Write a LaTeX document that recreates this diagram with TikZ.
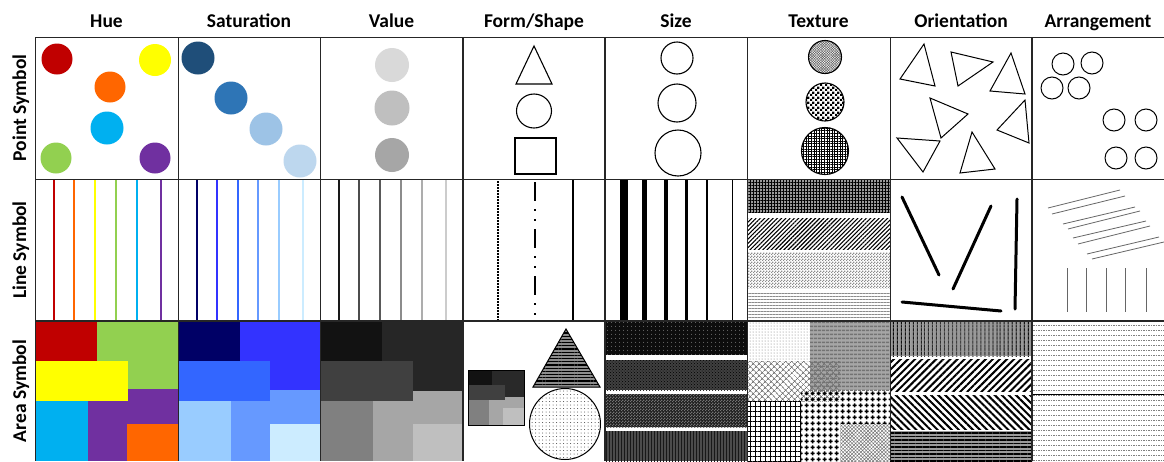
\documentclass[tikz,border=0pt]{standalone}
\usepackage{fontspec}
\setmainfont{Carlito}
\usetikzlibrary{patterns,patterns.meta}
\definecolor{hred}{HTML}{C00000}
\definecolor{hyel}{HTML}{FFFF00}
\definecolor{hora}{HTML}{FF6600}
\definecolor{hcya}{HTML}{00B0F0}
\definecolor{hgre}{HTML}{92D050}
\definecolor{hpur}{HTML}{7030A0}
\definecolor{sa1}{HTML}{1F4E79}
\definecolor{sa2}{HTML}{2E75B6}
\definecolor{sa3}{HTML}{9DC3E6}
\definecolor{sa4}{HTML}{BDD7EE}
\definecolor{bl1}{HTML}{000066}
\definecolor{bl2}{HTML}{3333FF}
\definecolor{bl3}{HTML}{3366FF}
\definecolor{bl4}{HTML}{6699FF}
\definecolor{bl5}{HTML}{99CCFF}
\definecolor{bl6}{HTML}{CCECFF}
\pgfdeclarepatternformonly{plusblk}{\pgfqpoint{0pt}{0pt}}{\pgfqpoint{6pt}{6pt}}{\pgfqpoint{6pt}{6pt}}{%
  \pgfpathrectangle{\pgfqpoint{0.8pt}{2.2pt}}{\pgfqpoint{4.4pt}{1.6pt}}%
  \pgfpathrectangle{\pgfqpoint{2.2pt}{0.8pt}}{\pgfqpoint{1.6pt}{4.4pt}}%
  \pgfusepath{fill}}
\pgfdeclarepatternformonly{smallchk}{\pgfqpoint{0pt}{0pt}}{\pgfqpoint{5pt}{5pt}}{\pgfqpoint{5pt}{5pt}}{%
  \pgfpathrectangle{\pgfqpoint{0pt}{0pt}}{\pgfqpoint{2.55pt}{2.55pt}}%
  \pgfpathrectangle{\pgfqpoint{2.5pt}{2.5pt}}{\pgfqpoint{2.55pt}{2.55pt}}%
  \pgfusepath{fill}}
\pgfdeclarepatternformonly{tinychk}{\pgfqpoint{0pt}{0pt}}{\pgfqpoint{3pt}{3pt}}{\pgfqpoint{3pt}{3pt}}{%
  \pgfpathrectangle{\pgfqpoint{0pt}{0pt}}{\pgfqpoint{1.55pt}{1.55pt}}%
  \pgfpathrectangle{\pgfqpoint{1.5pt}{1.5pt}}{\pgfqpoint{1.55pt}{1.55pt}}%
  \pgfusepath{fill}}
\begin{document}
\begin{tikzpicture}[x=1pt,y=-1pt,
  hdr/.style={font=\bfseries\fontsize{19.5}{22}\selectfont, anchor=base, inner sep=0pt},
  rowlbl/.style={font=\bfseries\fontsize{19.5}{22}\selectfont, anchor=base, inner sep=0pt, rotate=90},
  gridline/.style={line width=1.2pt, black!85},
  outl/.style={draw=black, line width=1.1pt},
  ori/.style={line width=3pt, line cap=round},
  arr/.style={line width=0.8pt, black!60}]
\useasboundingbox (0,0) rectangle (1164,461);
\fill[white] (0,0) rectangle (1164,461);

% headers
\node[hdr] (h1) at (106.5,27.5) {Hue};
\node[hdr] (h2) at (249,27.5) {Saturation};
\node[hdr] (h3) at (391.5,27.5) {Value};
\node[hdr] (h4) at (534,27.5) {Form/Shape};
\node[hdr] (h5) at (676,27.5) {Size};
\node[hdr] (h6) at (818.5,27.5) {Texture};
\node[hdr] (h7) at (961,27.5) {Orientation};
\node[hdr] (h8) at (1098,27.5) {Arrangement};
\node[rowlbl] (r1) at (26,108) {Point Symbol};
\node[rowlbl] (r2) at (26,250) {Line Symbol};
\node[rowlbl] (r3) at (26,391) {Area Symbol};

% ---------- Point row ----------
\fill[hred] (57,59) circle (15.5);
\fill[hyel] (155,60) circle (16);
\fill[hora] (110,87) circle (15.5);
\fill[hcya] (107,128) circle (16.5);
\fill[hgre] (56,158) circle (15.5);
\fill[hpur] (155,158) circle (15.5);

\fill[sa1] (198,58) circle (16.5);
\fill[sa2] (231,98) circle (16.5);
\fill[sa3] (266,129) circle (16.5);
\fill[sa4] (300,161) circle (16.5);

\fill[black!15] (392,65) circle (17);
\fill[black!25] (392,108) circle (17.5);
\fill[black!35] (392,155) circle (17);

\draw[outl] (534,46) -- (552,84) -- (516,84) -- cycle;
\draw[outl] (534,111) ellipse (17.5 and 17);
\draw[outl] (515,138) rectangle (556,174);

\draw[outl] (677,58) circle (16);
\draw[outl] (677,103) circle (19);
\draw[outl] (678,153) circle (23);

\path[pattern={Hatch[angle=45,distance=1.8pt,line width=0.5pt]}, pattern color=black!60] (825,57) circle (16.5);
\draw[outl] (825,57) circle (16.5);
\path[pattern=smallchk] (825,102) circle (19);
\draw[outl] (825,102) circle (19);
\path[pattern={Hatch[angle=0,distance=2.6pt,line width=0.6pt]}] (825,151) circle (23.5);
\draw[outl] (825,151) circle (23.5);

\begin{scope}[line width=1pt, line join=miter]
\draw (924,44) -- (900,79) -- (935,86) -- cycle;
\draw (951,52) -- (958,86) -- (993,62) -- cycle;
\draw (1011,53) -- (990,91) -- (1025,94) -- cycle;
\draw (930,98) -- (941,138) -- (968,114) -- cycle;
\draw (1025,100) -- (997,130) -- (1029,143) -- cycle;
\draw (897,138) -- (923,172) -- (940,141) -- cycle;
\draw (972,132) -- (960,173) -- (995,169) -- cycle;
\end{scope}

\foreach \cx/\cy in {1063/64,1092/63,1052/88,1079/88,1114/120,1146/120,1116/158,1146/158}
  \draw[line width=1pt] (\cx,\cy) circle (11);

% ---------- Line row ----------
\foreach \xx/\cc in {54/hred,74/hora,95/hyel,116/hgre,137/hcya,161/hpur}
  \draw[\cc, line width=2.2pt] (\xx,180) -- (\xx,321);
\foreach \xx/\cc in {197/bl1,217/bl2,238/bl3,258/bl4,279/bl5,303/bl6}
  \draw[\cc, line width=2.2pt] (\xx,180) -- (\xx,321);
\foreach \xx/\cc in {339/black!90,359/black!70,380/black!65,401/black!45,422/black!32,446/black!20}
  \draw[\cc, line width=2.4pt] (\xx,180) -- (\xx,321);

\draw[line width=2pt, dash pattern=on 1.5pt off 1.5pt] (498,181) -- (498,321);
\draw[line width=2pt, dash pattern=on 19pt off 8pt on 2pt off 8pt on 2pt off 8pt] (535,182) -- (535,321);
\draw[line width=2pt] (573,180) -- (573,321);

\foreach \xx/\ww in {624/8,644/5,666/4,686/3,707/2,732/1}
  \draw[line width=\ww pt] (\xx,180) -- (\xx,321);

\fill[black!40] (747,180) rectangle (890,212);
\path[pattern={Hatch[angle=0,distance=3pt,line width=0.9pt]}] (747,180) rectangle (890,212);
\path[pattern={Lines[angle=45,distance=3pt,line width=1.1pt]}] (747,218) rectangle (890,249);
\path[pattern=tinychk, pattern color=black!45] (747,252) rectangle (890,288);
\path[pattern={Lines[angle=0,distance=3pt,line width=0.6pt]}, pattern color=black!45] (747,291) rectangle (890,321);

\draw[ori] (902,197) -- (939,275);
\draw[ori] (991,206) -- (953,289);
\draw[ori] (1017,199) -- (1015,309);
\draw[ori] (902,302) -- (1001,311);

\foreach \ax/\ay/\bx/\by in {1048/208/1120/190,1052/214/1125/196,1063/224/1135/207,1068/229/1140/211,1073/238/1146/221,1078/244/1150/226,1087/254/1159/237,1092/259/1164/242}
  \draw[arr] (\ax,\ay) -- (\bx,\by);
\foreach \xx in {1067,1086,1106,1125,1146}
  \draw[arr] (\xx,268) -- (\xx,312);

% ---------- Area row ----------
\fill[hgre] (97,321) rectangle (178,389);
\fill[hred] (35,321) rectangle (97,361);
\fill[hpur] (88,389) rectangle (178,461);
\fill[hyel] (35,361) rectangle (128,401);
\fill[hcya] (35,401) rectangle (88,461);
\fill[hora] (127,424) rectangle (178,461);

\fill[bl2] (240,321) rectangle (320,390);
\fill[bl1] (178,321) rectangle (240,361);
\fill[bl4] (231,390) rectangle (320,461);
\fill[bl3] (178,361) rectangle (270,401);
\fill[bl5] (178,401) rectangle (231,461);
\fill[bl6] (270,424) rectangle (320,461);

\fill[black!85] (382,321) rectangle (463,391);
\fill[black!93] (320,321) rectangle (382,361);
\fill[black!35] (373,391) rectangle (463,461);
\fill[black!75] (320,361) rectangle (413,401);
\fill[black!50] (320,401) rectangle (373,461);
\fill[black!25] (413,424) rectangle (463,461);

\fill[black!84] (492,370) rectangle (524,397);
\fill[black!93] (468,370) rectangle (492,385);
\fill[black!35] (489,397) rectangle (524,425);
\fill[black!75] (468,385) rectangle (505,400);
\fill[black!50] (468,400) rectangle (489,425);
\fill[black!25] (503,408) rectangle (524,425);
\draw[line width=1pt] (468,370) rectangle (524,425);

\fill[black!45] (566,329) -- (600,387) -- (533,387) -- cycle;
\path[pattern={Lines[angle=0,distance=3.2pt,line width=1.3pt]}] (566,329) -- (600,387) -- (533,387) -- cycle;
\draw[line width=1pt] (566,329) -- (600,387) -- (533,387) -- cycle;
\path[pattern={Dots[radius=0.5pt,distance=3.5pt]}, pattern color=black!75] (565,424) circle (35.5);
\draw[line width=1pt] (565,424) circle (35.5);

\fill[black!95] (605,321) rectangle (747,355);
\path[pattern={Dots[radius=0.6pt,distance=4pt]}, pattern color=black!45] (605,321) rectangle (747,355);
\fill[black!75] (605,360) rectangle (747,390);
\path[pattern=crosshatch dots, pattern color=black] (605,360) rectangle (747,390);
\fill[black!88] (605,394) rectangle (747,427);
\path[pattern=tinychk, pattern color=black!55] (605,394) rectangle (747,427);
\fill[black!70] (605,431) rectangle (747,461);
\path[pattern={Lines[angle=90,distance=3pt,line width=1pt]}, pattern color=black!90] (605,431) rectangle (747,461);

\path[pattern={Dots[radius=0.5pt,distance=3pt]}, pattern color=black!55] (747,321) rectangle (810,361);
\fill[black!35] (810,321) rectangle (890,390);
\path[pattern={Lines[angle=0,distance=4pt,line width=1.6pt]}, pattern color=black!55] (810,321) rectangle (890,390);
\path[pattern={Hatch[angle=45,distance=4pt,line width=0.8pt]}, pattern color=black!55] (747,361) rectangle (840,401);
\path[pattern=plusblk] (801,390) rectangle (890,461);
\fill[white] (747,401) rectangle (801,461);
\path[pattern={Hatch[angle=0,distance=5pt,line width=0.7pt]}] (747,401) rectangle (801,461);
\fill[white] (840,424) rectangle (890,461);
\path[pattern={Hatch[angle=45,distance=2.5pt,line width=0.5pt]}, pattern color=black!55] (840,424) rectangle (890,461);

\fill[black!40] (890,321) rectangle (1032,356);
\path[pattern={Lines[angle=90,distance=4pt,line width=1.5pt]}] (890,321) rectangle (1032,356);
\path[pattern={Lines[angle=45,distance=5pt,line width=2pt]}] (890,359) rectangle (1032,391);
\path[pattern={Lines[angle=-45,distance=5pt,line width=2pt]}] (890,395) rectangle (1032,429);
\fill[black!40] (890,431) rectangle (1032,461);
\path[pattern={Lines[angle=0,distance=3.5pt,line width=1.2pt]}] (890,431) rectangle (1032,461);

\foreach \yy in {325,330,...,460}
  \draw[black!50, line width=1pt, dash pattern=on 1.5pt off 1pt] (1033,\yy) -- (1164,\yy);
\draw[line width=1pt] (1032,394) -- (1164,394);

% ---------- grid ----------
\draw[gridline] (35,37.5) -- (1164,37.5);
\draw[gridline] (35,179.5) -- (1164,179.5);
\draw[gridline] (35,321) -- (1164,321);
\foreach \xx in {35.5,178.5,320.5,463,605,747.5,890.5,1032}
  \draw[gridline] (\xx,37) -- (\xx,461);
\end{tikzpicture}
\end{document}
